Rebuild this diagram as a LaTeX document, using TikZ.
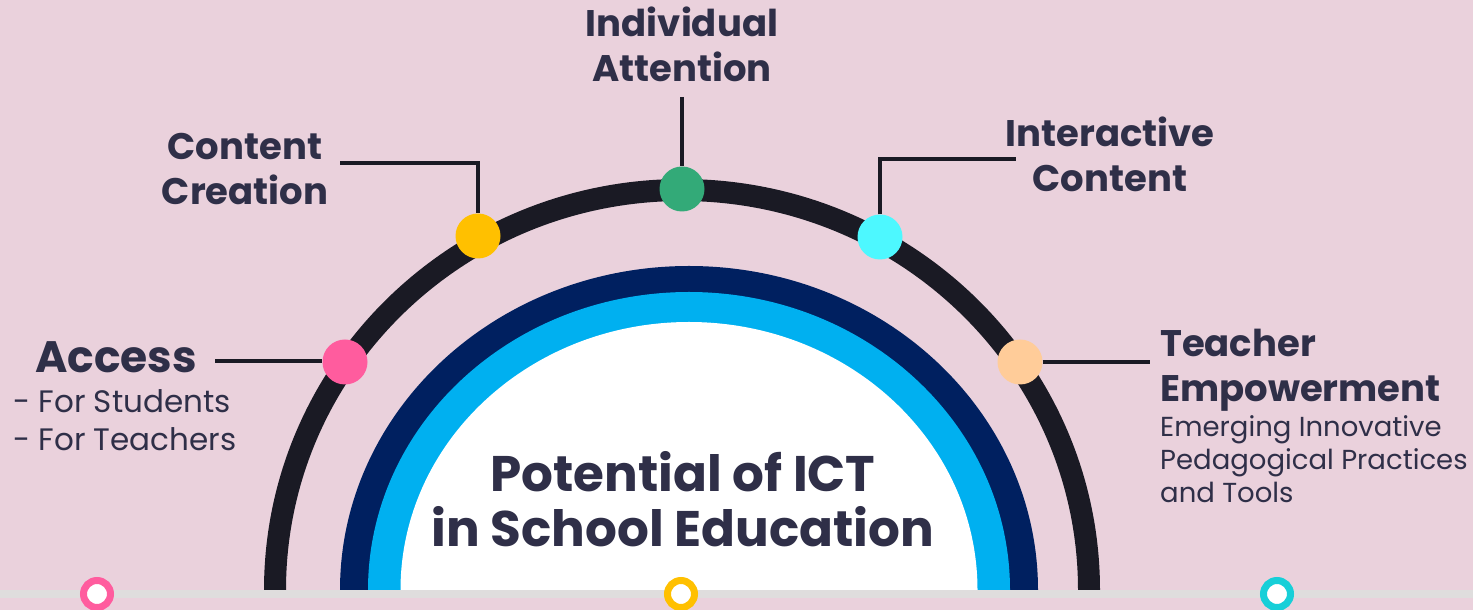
\documentclass[tikz,border=0pt]{standalone}
\usepackage{fontspec}
\setmainfont{Poppins}
\definecolor{bgpink}{HTML}{EAD1DC}
\definecolor{txt}{HTML}{2F2F48}
\definecolor{arcblk}{HTML}{1A1A24}
\definecolor{navy}{HTML}{002060}
\definecolor{lblue}{HTML}{00B0F0}
\definecolor{dpink}{HTML}{FF5C9E}
\definecolor{dyellow}{HTML}{FFC000}
\definecolor{dgreen}{HTML}{33AA78}
\definecolor{dcyan}{HTML}{4DF8FF}
\definecolor{dpeach}{HTML}{FFCC99}
\definecolor{rcyan}{HTML}{17CFD8}
\definecolor{lgrey}{HTML}{DFDDDD}
\tikzset{
  dot/.style={circle,fill=#1,minimum size=45pt,inner sep=0pt},
  ring/.style={circle,draw=#1,fill=white,line width=7pt,minimum size=27pt,inner sep=0pt},
  conn/.style={draw=arcblk,line width=3.5pt},
  head/.style={text=txt,inner sep=0pt,align=center,font=\fontsize{37}{45}\selectfont\bfseries},
}
\begin{document}
\begin{tikzpicture}[x=1pt,y=1pt]
\fill[bgpink] (0,0) rectangle (1473,610);
\useasboundingbox (0,0) rectangle (1473,610);
% arcs
\draw[arcblk,line width=22pt] (275,20) arc[start angle=180,end angle=0,x radius=407,y radius=400];
\fill[navy] (340,20) arc[start angle=180,end angle=0,x radius=349,y radius=324] -- cycle;
\fill[lblue] (368,20) arc[start angle=180,end angle=0,x radius=321,y radius=298] -- cycle;
\fill[white] (400.5,20) arc[start angle=180,end angle=0,x radius=288.5,y radius=268] -- cycle;
% bottom line
\fill[lgrey] (0,12) rectangle (1473,20);
\node[ring=dpink] (r1) at (97,16) {};
\node[ring=dyellow] (r2) at (681,16) {};
\node[ring=rcyan] (r3) at (1277,16) {};
% dots
\node[dot=dpink] (pink) at (345,248) {};
\node[dot=dyellow] (yellow) at (478,374) {};
\node[dot=dgreen] (green) at (682,421) {};
\node[dot=dcyan] (cyan) at (880,373) {};
\node[dot=dpeach] (peach) at (1020,248) {};
% connectors
\coordinate (a1) at (215,249);
\coordinate (c1) at (340,447);
\coordinate (g1) at (682,513);
\coordinate (i1) at (1016,451);
\coordinate (t1) at (1150,248);
\draw[conn] (a1) -- (a1 -| pink.west);
\draw[conn] (c1) -| (yellow.north);
\draw[conn] (g1) -- (green.north);
\draw[conn] (cyan.north) |- (i1);
\draw[conn] (peach.east) -- (t1);
% texts
\node[head,anchor=base] (tia) at (682,528) {Individual\\Attention};
\node[head,anchor=base] (tcc) at (245,405) {Content\\Creation};
\node[head,anchor=base] (tic) at (1110,418) {Interactive\\Content};
\node[text=txt,inner sep=0pt,anchor=base west,font=\fontsize{44}{50}\selectfont\bfseries] (tac) at (35,237) {Access};
\node[text=txt,inner sep=0pt,anchor=base west,align=left,font=\fontsize{31}{38}\selectfont] (tacs) at (13,159) {- For Students\\- For Teachers};
\node[head,anchor=base west,align=left] (tte) at (1160,208) {Teacher\\Empowerment};
\node[text=txt,inner sep=0pt,anchor=base west,align=left,font=\fontsize{27.5}{33}\selectfont] (ttes) at (1160,107) {Emerging Innovative\\Pedagogical Practices\\and Tools};
\node[text=txt,inner sep=0pt,anchor=base,align=center,font=\fontsize{50}{55}\selectfont\bfseries] (tp) at (683,63) {Potential of ICT\\in School Education};
\end{tikzpicture}
\end{document}
